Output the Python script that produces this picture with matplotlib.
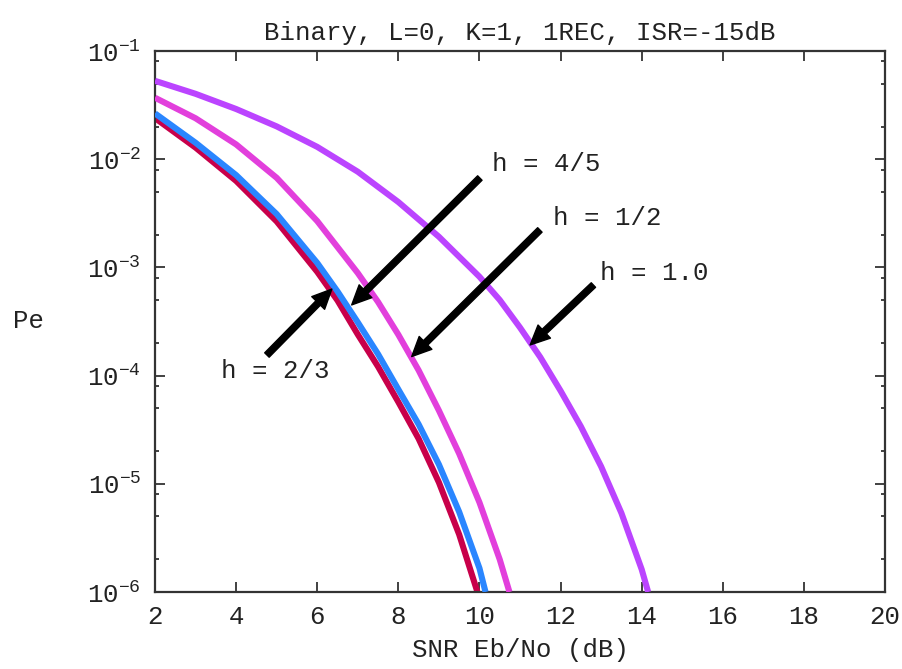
import math
import matplotlib
matplotlib.use("Agg")
import matplotlib.pyplot as plt
from matplotlib.ticker import LogLocator, FixedLocator, NullLocator, FuncFormatter

# ---- data ----
snr_h23 = [2, 3, 4, 5, 6, 6.5, 7, 7.5, 8, 8.5, 9, 9.5, 9.95]
pe_h23 = [0.024, 0.0128, 6.3e-3, 2.66e-3, 9.1e-4, 4.95e-4, 2.4e-4, 1.21e-4,
          5.7e-5, 2.61e-5, 1.03e-5, 3.4e-6, 1.0e-6]

snr_h45 = [2, 3, 4, 5, 6, 6.5, 7, 7.5, 8, 8.5, 9, 9.5, 10, 10.15]
pe_h45 = [0.0265, 0.0142, 7.13e-3, 3.11e-3, 1.10e-3, 6.0e-4, 3.11e-4, 1.58e-4,
          7.46e-5, 3.55e-5, 1.51e-5, 5.5e-6, 1.66e-6, 1.0e-6]

snr_h12 = [2, 3, 4, 5, 6, 7, 7.5, 8, 8.5, 9, 9.5, 10, 10.5, 10.74]
pe_h12 = [0.037, 0.0239, 0.0137, 6.73e-3, 2.68e-3, 8.87e-4, 4.79e-4, 2.39e-4,
          1.12e-4, 4.76e-5, 1.9e-5, 6.73e-6, 2.0e-6, 1.0e-6]

snr_h10 = [2, 3, 4, 5, 6, 7, 8, 9, 10, 10.5, 11, 11.5, 12, 12.5, 13, 13.5, 14, 14.16]
pe_h10 = [0.053, 0.0402, 0.0291, 0.0201, 0.0130, 7.66e-3, 4.02e-3, 1.92e-3,
          8.2e-4, 5.0e-4, 2.78e-4, 1.48e-4, 7.24e-5, 3.39e-5, 1.445e-5, 5.37e-6,
          1.62e-6, 1.0e-6]

x_ticks = [2, 4, 6, 8, 10, 12, 14, 16, 18, 20]
y_exponents = [-1, -2, -3, -4, -5, -6]

# annotations: label, label (x, y), arrow tail (x, y), arrow tip (x, y)
ann_labels = ["h = 2/3", "h = 4/5", "h = 1/2", "h = 1.0"]
ann_text_xy = [(3.62, 1.1e-4), (10.30, 9.1e-3), (11.82, 2.84e-3), (12.97, 8.8e-4)]
ann_tail_xy = [(4.76, 1.55e-4), (10.01, 6.7e-3), (11.49, 2.22e-3), (12.81, 6.87e-4)]
ann_tip_xy = [(6.36, 6.3e-4), (6.85, 4.5e-4), (8.33, 1.5e-4), (11.25, 1.92e-4)]

# ---- style ----
FONT = "Liberation Mono"
plt.rcParams["font.family"] = [FONT, "DejaVu Sans Mono"]
plt.rcParams["mathtext.fontset"] = "custom"
plt.rcParams["mathtext.rm"] = FONT
plt.rcParams["mathtext.it"] = FONT
plt.rcParams["mathtext.bf"] = FONT
FS = 18.5
TXT = "#222222"

fig = plt.figure(figsize=(9.03, 6.69), dpi=100)
ax = fig.add_axes([155 / 903, 1 - 592 / 669, 730 / 903, 541 / 669])

lw = 4.4
kw = dict(lw=lw, solid_capstyle="butt", solid_joinstyle="round")
ax.semilogy(snr_h23, pe_h23, color="#c8004a", zorder=2, **kw)
ax.semilogy(snr_h45, pe_h45, color="#2a86ff", zorder=3, **kw)
ax.semilogy(snr_h12, pe_h12, color="#e23fdc", zorder=3, **kw)
ax.semilogy(snr_h10, pe_h10, color="#bb44ff", zorder=3, **kw)

ax.set_xlim(2, 20)
ax.set_ylim(1e-6, 1e-1)

ax.xaxis.set_major_locator(FixedLocator(x_ticks))
ax.xaxis.set_minor_locator(NullLocator())
ax.yaxis.set_major_locator(FixedLocator([10.0 ** e for e in y_exponents]))
ax.yaxis.set_minor_locator(LogLocator(base=10, subs=[2, 5, 8], numticks=20))
ax.xaxis.set_major_formatter(FuncFormatter(lambda v, p: f"{int(v)}"))
ax.yaxis.set_major_formatter(FuncFormatter(lambda v, p: r"$10^{%d}$" % round(math.log10(v))))

ax.tick_params(axis="both", which="major", direction="in", length=7, width=1.3,
               top=True, right=True, labelsize=FS, colors="#333333", labelcolor=TXT)
ax.tick_params(axis="both", which="minor", direction="in", length=3, width=1.3,
               top=True, right=True, colors="#333333")
ax.tick_params(axis="x", which="major", pad=9)
ax.tick_params(axis="y", which="major", pad=10)

for s in ax.spines.values():
    s.set_linewidth(1.6)
    s.set_color("#333333")

ax.set_title("Binary, L=0, K=1, 1REC, ISR=-15dB", fontsize=FS, color=TXT, pad=8)
ax.set_xlabel("SNR Eb/No (dB)", fontsize=FS, color=TXT, labelpad=7)
ax.set_ylabel("Pe", fontsize=FS, color=TXT, rotation=0, ha="center", va="center")
ax.yaxis.set_label_coords((29 - 155) / 730, 0.5)

for lab, txy, tail, tip in zip(ann_labels, ann_text_xy, ann_tail_xy, ann_tip_xy):
    ax.annotate("", xy=tip, xytext=tail,
                arrowprops=dict(facecolor="black", edgecolor="black", width=4.5,
                                headwidth=13, headlength=14, shrink=0),
                zorder=5)
    ax.text(txy[0], txy[1], lab, fontsize=FS, color=TXT, ha="left", va="center", zorder=5)

fig.savefig("out.png", dpi=100)
